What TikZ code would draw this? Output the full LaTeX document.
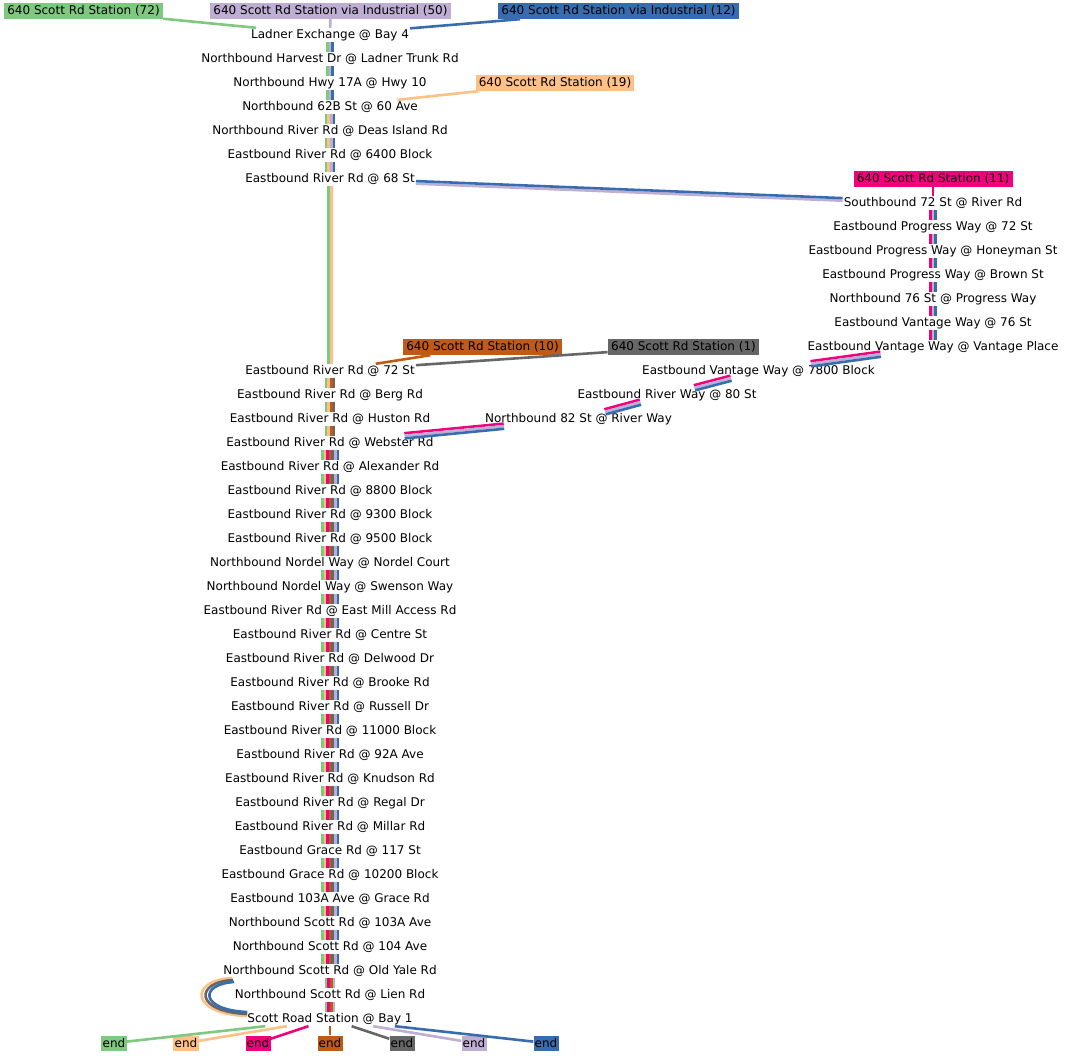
\documentclass[tikz,border=0pt]{standalone}
\usepackage{fontspec}
\setmainfont{DejaVu Sans}
\usetikzlibrary{calc}
\definecolor{RTGreen}{HTML}{7FC97F}
\definecolor{RTLilac}{HTML}{BEAED4}
\definecolor{RTOrange}{HTML}{FDC086}
\definecolor{RTBlue}{HTML}{386CB0}
\definecolor{RTPink}{HTML}{F0027F}
\definecolor{RTBrown}{HTML}{BF5B17}
\definecolor{RTGray}{HTML}{666666}
\tikzset{
  stop/.style={inner xsep=1pt,inner ysep=0pt,minimum height=14pt,
               font=\fontsize{12}{14}\selectfont},
  routetag/.style={stop,fill=#1,inner xsep=3.3pt,minimum height=16pt},
  endtag/.style={stop,fill=#1,inner xsep=1.2pt,minimum height=15pt},
  strand/.style={line width=2.6pt},
  wire/.style={line width=2.6pt},
}
% parallel strands between two stops: from, to, colour/offset list
\newcommand{\bundle}[3]{%
  \path (#1) -- (#2) coordinate[pos=0] (b-s) coordinate[pos=1] (b-e);
  \foreach \col/\off in {#3}
    {\draw[strand,draw=\col] ($(b-s)!\off!90:(b-e)$) -- ($(b-e)!\off!-90:(b-s)$);}}

\begin{document}
\begin{tikzpicture}[x=1pt,y=-1pt]
  \path[fill=white] (0,0) rectangle (1065,1056);
  \useasboundingbox (0,0) rectangle (1065,1056);

  % route heads
  \node[routetag=RTGreen] (r72) at (83.5,11) {640 Scott Rd Station (72)};
  \node[routetag=RTLilac] (r50) at (330.5,11) {640 Scott Rd Station via Industrial (50)};
  \node[routetag=RTBlue] (r12) at (618.5,11) {640 Scott Rd Station via Industrial (12)};
  \node[routetag=RTOrange] (r19) at (555,83) {640 Scott Rd Station (19)};
  \node[routetag=RTPink] (r11) at (933,179) {640 Scott Rd Station (11)};
  \node[routetag=RTBrown] (r10) at (482.5,347) {640 Scott Rd Station (10)};
  \node[routetag=RTGray] (r1) at (683.5,347) {640 Scott Rd Station (1)};

  % main line
  \node[stop] (ladner) at (330,35) {Ladner Exchange @ Bay 4};
  \node[stop] (harvest) at (330,59) {Northbound Harvest Dr @ Ladner Trunk Rd};
  \node[stop] (hwy) at (330,83) {Northbound Hwy 17A @ Hwy 10};
  \node[stop] (st62b) at (330,107) {Northbound 62B St @ 60 Ave};
  \node[stop] (deas) at (330,131) {Northbound River Rd @ Deas Island Rd};
  \node[stop] (b6400) at (330,155) {Eastbound River Rd @ 6400 Block};
  \node[stop] (st68) at (330,179) {Eastbound River Rd @ 68 St};
  \node[stop] (st72) at (330,371) {Eastbound River Rd @ 72 St};
  \node[stop] (berg) at (330,395) {Eastbound River Rd @ Berg Rd};
  \node[stop] (huston) at (330,419) {Eastbound River Rd @ Huston Rd};
  \node[stop] (webster) at (330,443) {Eastbound River Rd @ Webster Rd};
  \node[stop] (alexander) at (330,467) {Eastbound River Rd @ Alexander Rd};
  \node[stop] (b8800) at (330,491) {Eastbound River Rd @ 8800 Block};
  \node[stop] (b9300) at (330,515) {Eastbound River Rd @ 9300 Block};
  \node[stop] (b9500) at (330,539) {Eastbound River Rd @ 9500 Block};
  \node[stop] (nordel) at (330,563) {Northbound Nordel Way @ Nordel Court};
  \node[stop] (swenson) at (330,587) {Northbound Nordel Way @ Swenson Way};
  \node[stop] (eastmill) at (330,611) {Eastbound River Rd @ East Mill Access Rd};
  \node[stop] (centre) at (330,635) {Eastbound River Rd @ Centre St};
  \node[stop] (delwood) at (330,659) {Eastbound River Rd @ Delwood Dr};
  \node[stop] (brooke) at (330,683) {Eastbound River Rd @ Brooke Rd};
  \node[stop] (russell) at (330,707) {Eastbound River Rd @ Russell Dr};
  \node[stop] (b11000) at (330,731) {Eastbound River Rd @ 11000 Block};
  \node[stop] (ave92a) at (330,755) {Eastbound River Rd @ 92A Ave};
  \node[stop] (knudson) at (330,779) {Eastbound River Rd @ Knudson Rd};
  \node[stop] (regal) at (330,803) {Eastbound River Rd @ Regal Dr};
  \node[stop] (millar) at (330,827) {Eastbound River Rd @ Millar Rd};
  \node[stop] (grace117) at (330,851) {Eastbound Grace Rd @ 117 St};
  \node[stop] (b10200) at (330,875) {Eastbound Grace Rd @ 10200 Block};
  \node[stop] (ave103a) at (330,899) {Eastbound 103A Ave @ Grace Rd};
  \node[stop] (scott103a) at (330,923) {Northbound Scott Rd @ 103A Ave};
  \node[stop] (ave104) at (330,947) {Northbound Scott Rd @ 104 Ave};
  \node[stop] (oldyale) at (330,971) {Northbound Scott Rd @ Old Yale Rd};
  \node[stop] (lien) at (330,995) {Northbound Scott Rd @ Lien Rd};
  \node[stop] (scottstn) at (330,1019) {Scott Road Station @ Bay 1};

  % industrial branch
  \node[stop] (sb72) at (933,203) {Southbound 72 St @ River Rd};
  \node[stop] (pw72) at (933,227) {Eastbound Progress Way @ 72 St};
  \node[stop] (honeyman) at (933,251) {Eastbound Progress Way @ Honeyman St};
  \node[stop] (brownst) at (933,275) {Eastbound Progress Way @ Brown St};
  \node[stop] (st76) at (933,299) {Northbound 76 St @ Progress Way};
  \node[stop] (vw76) at (933,323) {Eastbound Vantage Way @ 76 St};
  \node[stop] (vantage) at (933,347) {Eastbound Vantage Way @ Vantage Place};
  \node[stop] (b7800) at (758.5,371) {Eastbound Vantage Way @ 7800 Block};
  \node[stop] (rw80) at (667,395) {Eastbound River Way @ 80 St};
  \node[stop] (st82) at (578.5,419) {Northbound 82 St @ River Way};

  % ends
  \node[endtag=RTGreen] (e72) at (114,1043) {end};
  \node[endtag=RTOrange] (e19) at (186,1043) {end};
  \node[endtag=RTPink] (e11) at (258,1043) {end};
  \node[endtag=RTBrown] (e10) at (330,1043) {end};
  \node[endtag=RTGray] (e1) at (402,1043) {end};
  \node[endtag=RTLilac] (e50) at (474,1043) {end};
  \node[endtag=RTBlue] (e12) at (546,1043) {end};

  % heads to first stops
  \draw[wire,RTGreen] (r72) -- (ladner);
  \draw[wire,RTLilac] (r50) -- (ladner);
  \draw[wire,RTBlue] (r12) -- (ladner);
  \draw[wire,RTOrange] (r19) -- (st62b);
  \draw[wire,RTPink] (r11) -- (sb72);
  \draw[wire,RTBrown] (r10) -- (st72);
  \draw[wire,RTGray] (r1) -- (st72);

  % trunk
  \foreach \a/\b in {ladner/harvest,harvest/hwy,hwy/st62b}
    {\bundle{\a}{\b}{RTGreen/-2.6pt,RTLilac/0pt,RTBlue/2.6pt}}
  \foreach \a/\b in {st62b/deas,deas/b6400,b6400/st68}
    {\bundle{\a}{\b}{RTGreen/-3.9pt,RTOrange/-1.3pt,RTLilac/1.3pt,RTBlue/3.9pt}}
  \bundle{st68}{st72}{RTGreen/-1.3pt,RTOrange/1.3pt}
  \bundle{st68}{sb72}{RTLilac/-1.3pt,RTBlue/1.3pt}
  \foreach \a/\b in {sb72/pw72,pw72/honeyman,honeyman/brownst,brownst/st76,st76/vw76,
                     vw76/vantage,vantage/b7800,b7800/rw80,rw80/st82,st82/webster}
    {\bundle{\a}{\b}{RTPink/-2.6pt,RTLilac/0pt,RTBlue/2.6pt}}
  \foreach \a/\b in {st72/berg,berg/huston,huston/webster}
    {\bundle{\a}{\b}{RTGreen/-3.9pt,RTOrange/-1.3pt,RTBrown/1.3pt,RTGray/3.9pt}}
  \foreach \a/\b in {webster/alexander,alexander/b8800,b8800/b9300,b9300/b9500,
                     b9500/nordel,nordel/swenson,swenson/eastmill,eastmill/centre,
                     centre/delwood,delwood/brooke,brooke/russell,russell/b11000,
                     b11000/ave92a,ave92a/knudson,knudson/regal,regal/millar,
                     millar/grace117,grace117/b10200,b10200/ave103a,
                     ave103a/scott103a,scott103a/ave104,ave104/oldyale}
    {\bundle{\a}{\b}{RTGreen/-7.8pt,RTOrange/-5.2pt,RTPink/-2.6pt,RTBrown/0pt,
                     RTGray/2.6pt,RTLilac/5.2pt,RTBlue/7.8pt}}
  \foreach \a/\b in {oldyale/lien,lien/scottstn}
    {\bundle{\a}{\b}{RTGreen/-3.9pt,RTPink/-1.3pt,RTBrown/1.3pt,RTLilac/3.9pt}}

  % skip past Lien Rd
  \draw[strand,RTOrange] ($(oldyale.west)+(10,7)$) .. controls +(-43,2) and +(-58,-2) .. ($(scottstn.west)+(1,-3)$);
  \draw[strand,RTGray] ($(oldyale.west)+(11,9)$) .. controls +(-39,2) and +(-53,-2) .. ($(scottstn.west)+(1,-5)$);
  \draw[strand,RTBlue] ($(oldyale.west)+(12,11)$) .. controls +(-35,2) and +(-48,-2) .. ($(scottstn.west)+(1,-7)$);

  % to the ends
  \draw[wire,RTGreen] (scottstn) -- (e72);
  \draw[wire,RTOrange] (scottstn) -- (e19);
  \draw[wire,RTPink] (scottstn) -- (e11);
  \draw[wire,RTBrown] (scottstn) -- (e10);
  \draw[wire,RTGray] (scottstn) -- (e1);
  \draw[wire,RTLilac] (scottstn) -- (e50);
  \draw[wire,RTBlue] (scottstn) -- (e12);
\end{tikzpicture}
\end{document}
